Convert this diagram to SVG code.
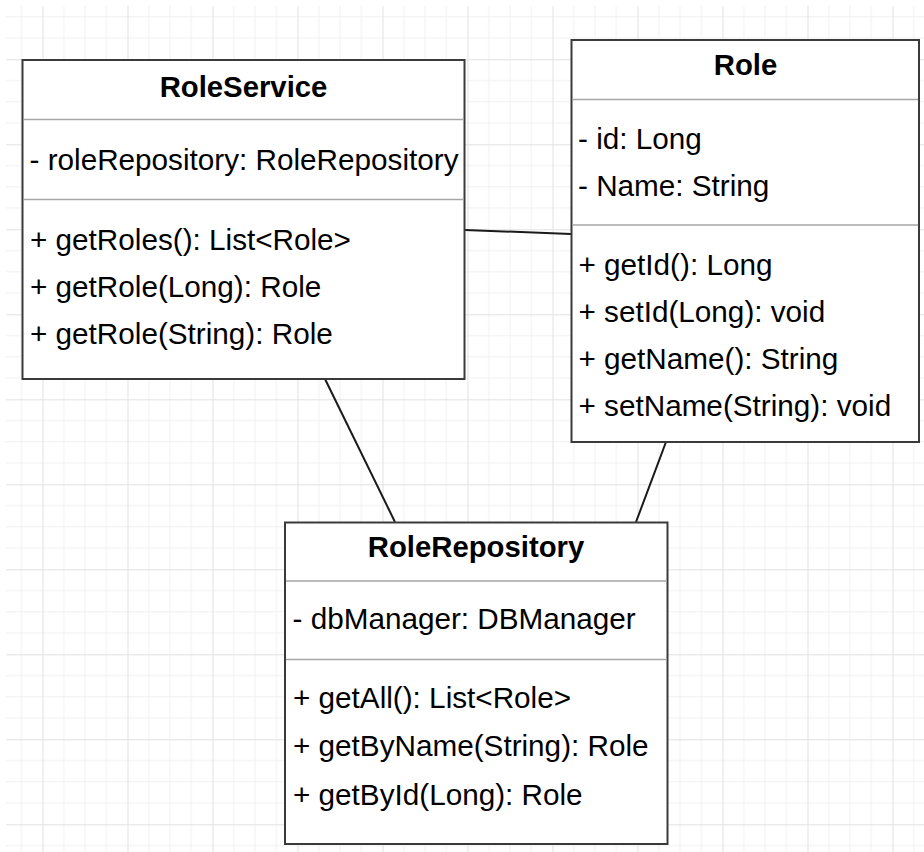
<svg xmlns="http://www.w3.org/2000/svg" width="924" height="852" viewBox="0 0 924 852">
<defs>
<pattern id="grid" patternUnits="userSpaceOnUse" x="42.5" y="59.3" width="85" height="85">
<path d="M21.25 0V85M42.5 0V85M63.75 0V85M0 21.25H85M0 42.5H85M0 63.75H85" stroke="#f0f0f0" stroke-width="1" fill="none"/>
<path d="M0.5 0V85M0 0.5H85" stroke="#e1e1e1" stroke-width="1" fill="none"/>
</pattern>
<style>
.box{fill:#fff;stroke:#3a3a3a;stroke-width:2}
.div{stroke:#a6a6a6;stroke-width:1.5}
.t{font-family:"Liberation Sans",Arial,sans-serif;font-size:29.7px;fill:#000}
.h{font-weight:bold;text-anchor:middle;font-size:29.3px}
.edge{stroke:#1a1a1a;stroke-width:2;fill:none}
</style>
</defs>
<rect width="924" height="852" fill="#fff"/>
<rect x="6" y="6" width="918" height="846" fill="url(#grid)"/>

<g id="connectors">
<line class="edge" x1="465" y1="230" x2="571" y2="234"/>
<line class="edge" x1="325" y1="379" x2="395" y2="522"/>
<line class="edge" x1="666" y1="442" x2="636" y2="522"/>
</g>

<g id="RoleService">
<rect class="box" x="22.5" y="60" width="442" height="319"/>
<line class="div" x1="23.5" y1="119.5" x2="463.5" y2="119.5"/>
<line class="div" x1="23.5" y1="199.5" x2="463.5" y2="199.5"/>
<text class="t h" x="243.5" y="97">RoleService</text>
<text class="t" x="29.5" y="170">- roleRepository: RoleRepository</text>
<text class="t" x="30" y="250">+ getRoles(): List&lt;Role&gt;</text>
<text class="t" x="30" y="297">+ getRole(Long): Role</text>
<text class="t" x="30" y="344">+ getRole(String): Role</text>
</g>

<g id="Role">
<rect class="box" x="571.5" y="40" width="347.5" height="402"/>
<line class="div" x1="572.5" y1="99.5" x2="918" y2="99.5"/>
<line class="div" x1="572.5" y1="225" x2="918" y2="225"/>
<text class="t h" x="745.5" y="75">Role</text>
<text class="t" x="578" y="149">- id: Long</text>
<text class="t" x="578" y="196">- Name: String</text>
<text class="t" x="578.5" y="275">+ getId(): Long</text>
<text class="t" x="578.5" y="322">+ setId(Long): void</text>
<text class="t" x="578.5" y="369">+ getName(): String</text>
<text class="t" x="578.5" y="416">+ setName(String): void</text>
</g>

<g id="RoleRepository">
<rect class="box" x="285" y="522.5" width="382.5" height="321.5"/>
<line class="div" x1="286" y1="581" x2="666.5" y2="581"/>
<line class="div" x1="286" y1="659.5" x2="666.5" y2="659.5"/>
<text class="t h" x="476" y="557">RoleRepository</text>
<text class="t" x="292.5" y="629">- dbManager: DBManager</text>
<text class="t" x="293" y="708">+ getAll(): List&lt;Role&gt;</text>
<text class="t" x="293" y="756">+ getByName(String): Role</text>
<text class="t" x="293" y="805">+ getById(Long): Role</text>
</g>
</svg>
